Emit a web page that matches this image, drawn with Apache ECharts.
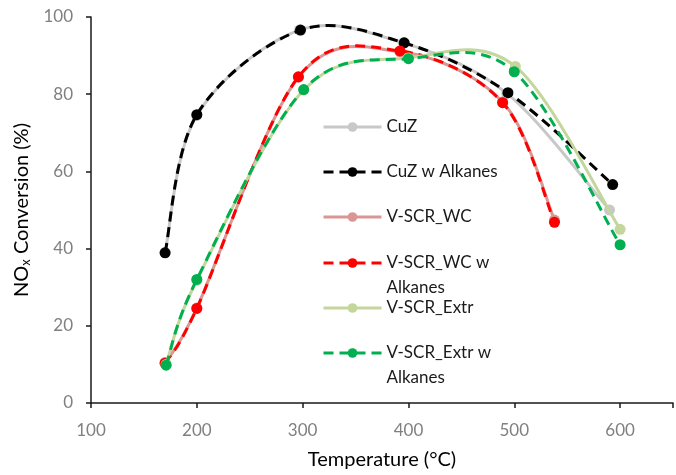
<!DOCTYPE html>
<html><head><meta charset="utf-8">
<script src="https://cdn.jsdelivr.net/npm/echarts@6/dist/echarts.min.js"></script>
<style>html,body{margin:0;padding:0;background:#fff}#c{width:676px;height:475px}</style>
</head><body><div id="c"></div>
<script>
// Data
const seriesNames = ['CuZ', 'CuZ w Alkanes', 'V-SCR_WC', 'V-SCR_WC w Alkanes', 'V-SCR_Extr', 'V-SCR_Extr w Alkanes'];
const cuzT = [170, 200, 297, 395, 493, 590];
const cuzY = [39.0, 74.5, 96.6, 93.3, 80.2, 50.0];
const cuzAlkT = [170, 200, 298, 396, 494, 593];
const cuzAlkY = [38.9, 74.7, 96.6, 93.3, 80.4, 56.6];
const wcT = [170, 200, 296, 392, 489, 538];
const wcY = [10.5, 24.6, 84.4, 91.0, 78.0, 47.4];
const wcAlkT = [170, 200, 296, 392, 489, 538];
const wcAlkY = [10.3, 24.5, 84.5, 91.2, 77.8, 46.8];
const extrT = [171, 200, 301, 400, 501, 600];
const extrY = [10.0, 31.8, 81.1, 89.4, 87.2, 45.0];
const extrAlkT = [171, 200, 301, 400, 500, 600];
const extrAlkY = [9.8, 32.0, 81.2, 89.2, 85.8, 41.0];
const xTicks = [100, 200, 300, 400, 500, 600];
const yTicks = [0, 20, 40, 60, 80, 100];

const pairs = (t, y) => t.map((v, i) => [v, y[i]]);
const seriesData = [
  pairs(cuzT, cuzY), pairs(cuzAlkT, cuzAlkY), pairs(wcT, wcY),
  pairs(wcAlkT, wcAlkY), pairs(extrT, extrY), pairs(extrAlkT, extrAlkY)
];
const colors = ['#c8c8c8', '#000000', '#d99694', '#ff0000', '#c3d69b', '#00b050'];
const dashed = [false, true, false, true, false, true];
const DASH = [10, 6];
const FONT = 'Lato';

// Excel-style smoothed line (Catmull-Rom Bezier) drawn through the axis scales
function curveSeries(i) {
  const data = seriesData[i];
  return {
    type: 'custom', name: '_curve' + i, data, silent: true, z: 2 + 2 * i, clip: false,
    encode: { x: 0, y: 1 },
    renderItem: (params, api) => {
      if (params.dataIndex !== 0) return null;
      const p = data.map(d => api.coord(d));
      const n = p.length;
      let d = 'M' + p[0][0] + ' ' + p[0][1];
      for (let k = 0; k < n - 1; k++) {
        const p0 = p[Math.max(0, k - 1)], p1 = p[k], p2 = p[k + 1], p3 = p[Math.min(n - 1, k + 2)];
        const c1 = [p1[0] + (p2[0] - p0[0]) / 6, p1[1] + (p2[1] - p0[1]) / 6];
        const c2 = [p2[0] - (p3[0] - p1[0]) / 6, p2[1] - (p3[1] - p1[1]) / 6];
        d += ' C' + c1[0] + ' ' + c1[1] + ' ' + c2[0] + ' ' + c2[1] + ' ' + p2[0] + ' ' + p2[1];
      }
      return {
        type: 'path', shape: { pathData: d },
        style: { fill: null, stroke: colors[i], lineWidth: 3, lineDash: dashed[i] ? DASH : null }
      };
    }
  };
}

const pointSeries = (i) => ({
  name: seriesNames[i], type: 'line', data: seriesData[i],
  symbol: 'circle', symbolSize: 11, z: 3 + 2 * i,
  lineStyle: { color: colors[i], width: 3, type: dashed[i] ? DASH : 'solid', opacity: 0 },
  itemStyle: { color: colors[i] },
  emphasis: { disabled: true }
});

const series = [];
seriesNames.forEach((_, i) => { series.push(curveSeries(i)); series.push(pointSeries(i)); });

const legendCenters = [131, 176, 221, 267, 312, 357];
const LH = 25;
const legends = seriesNames.map((name, i) => {
  const two = name.indexOf('V-SCR') === 0 && name.indexOf(' w Alkanes') > 0;
  return {
    data: [name], orient: 'vertical', left: 322,
    top: legendCenters[i] - (two ? LH * 1.5 : LH / 2),
    padding: 0, itemWidth: 58, itemHeight: 12, selectedMode: false,
    lineStyle: { opacity: 1, width: 3 },
    formatter: two ? (n) => '{a| }\n{a|' + n.replace(' Alkanes', '') + '}\n{a|Alkanes}' : '{a|{name}}',
    textStyle: { rich: { a: { fontFamily: FONT, fontSize: 17, color: '#1a1a1a', lineHeight: LH } } }
  };
});

const chart = echarts.init(document.getElementById('c'), null, { renderer: 'canvas' });
chart.setOption({
  animation: false,
  grid: { left: 91, top: 17, bottom: 70, right: -3.5, containLabel: false },
  legend: legends,
  xAxis: {
    type: 'value', min: 100, max: 650, interval: 100,
    name: 'Temperature (°C)', nameLocation: 'middle', nameGap: 47,
    nameTextStyle: { fontFamily: FONT, fontSize: 20, color: '#000' },
    axisLine: { show: true, lineStyle: { color: '#1a1a1a', width: 1.5 } },
    axisTick: { show: true, length: 5, lineStyle: { color: '#1a1a1a', width: 1.5 } },
    splitLine: { show: false },
    axisLabel: { fontFamily: FONT, fontSize: 17, color: '#808080', margin: 19,
      formatter: v => (xTicks.indexOf(v) >= 0 ? String(v) : '') }
  },
  yAxis: {
    type: 'value', min: 0, max: 100, interval: 20,
    name: '{a|NO}{s|x}{a| Conversion (%)}', nameLocation: 'middle', nameGap: 57, nameRotate: 90,
    nameTextStyle: { rich: {
      a: { fontFamily: FONT, fontSize: 20, color: '#000' },
      s: { fontFamily: FONT, fontSize: 13, color: '#000', padding: [9, 0, 0, 0] } } },
    axisLine: { show: true, lineStyle: { color: '#1a1a1a', width: 1.5 } },
    axisTick: { show: true, length: 5, lineStyle: { color: '#1a1a1a', width: 1.5 } },
    splitLine: { show: false },
    axisLabel: { fontFamily: FONT, fontSize: 17, color: '#808080', margin: 18,
      formatter: v => (yTicks.indexOf(v) >= 0 ? String(v) : '') }
  },
  series
});
</script></body></html>
